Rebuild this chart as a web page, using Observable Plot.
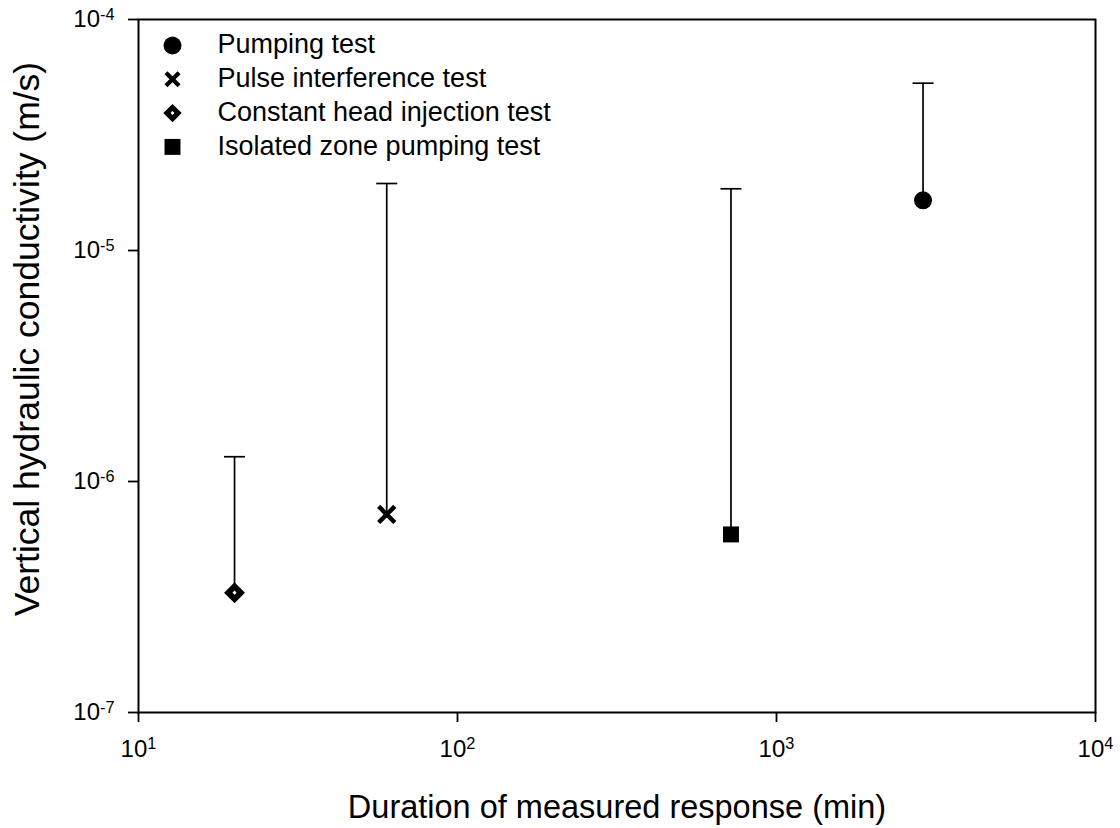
<!DOCTYPE html>
<html>
<head>
<meta charset="utf-8">
<script src="https://cdn.jsdelivr.net/npm/d3@7"></script>
<script src="https://cdn.jsdelivr.net/npm/@observablehq/plot@0.6"></script>
<style>
  html, body { margin: 0; padding: 0; background: #fff; }
  #chart svg { display: block; }
</style>
</head>
<body>
<div id="chart"></div>
<script>
// ---- data ----
const tests = ["Pumping test", "Pulse interference test", "Constant head injection test", "Isolated zone pumping test"];
const durations = [2880, 60, 20, 720];               // min
const kValues = [1.65e-5, 7.2e-7, 3.3e-7, 5.9e-7];    // m/s
const kUpper = [5.3e-5, 1.95e-5, 1.28e-6, 1.85e-5];   // m/s (upper error bar)
const xTicks = [10, 100, 1000, 10000];
const yTicks = [1e-7, 1e-6, 1e-5, 1e-4];
const xTitle = "Duration of measured response (min)";
const yTitle = "Vertical hydraulic conductivity (m/s)";

const data = tests.map((t, i) => ({test: t, x: durations[i], k: kValues[i], upper: kUpper[i]}));

// custom cap symbol: horizontal line
const capSymbol = {
  draw(ctx, size) {
    const r = Math.sqrt(size / Math.PI);
    ctx.moveTo(-r, 0);
    ctx.lineTo(r, 0);
  }
};

// symbol styles per test (marker look only)
const styles = {
  "Pumping test": [{symbol: "circle", r: 9, fill: "black", stroke: "none"}],
  "Pulse interference test": [{symbol: "times", r: 7.4, fill: "none", stroke: "black", strokeWidth: 4.5}],
  "Constant head injection test": [
    {symbol: "diamond2", r: 9.4, fill: "black", stroke: "none"},
    {symbol: "diamond2", r: 1.9, fill: "white", stroke: "none"}
  ],
  "Isolated zone pumping test": [{symbol: "square", r: 9, fill: "black", stroke: "none"}]
};
const legendStyles = {
  "Pumping test": [{symbol: "circle", r: 9, fill: "black", stroke: "none"}],
  "Pulse interference test": [{symbol: "times", r: 6, fill: "none", stroke: "black", strokeWidth: 4.2}],
  "Constant head injection test": [
    {symbol: "diamond2", r: 8.3, fill: "black", stroke: "none"},
    {symbol: "diamond2", r: 1.8, fill: "white", stroke: "none"}
  ],
  "Isolated zone pumping test": [{symbol: "square", r: 9, fill: "black", stroke: "none"}]
};

const pointMarks = [];
tests.forEach(t => {
  styles[t].forEach(s => {
    pointMarks.push(Plot.dot(data.filter(d => d.test === t), {x: "x", y: "k", ...s}));
  });
});

const legendMarks = [];
tests.forEach((t, i) => {
  legendStyles[t].forEach(s => {
    legendMarks.push(Plot.dot({length: 1}, {frameAnchor: "top-left", dx: 34, dy: 26 + 33.8 * i, ...s}));
  });
  legendMarks.push(Plot.text([t], {frameAnchor: "top-left", dx: 79, dy: 25 + 33.8 * i, text: d => d,
    textAnchor: "start", lineAnchor: "middle", fontSize: 27, fill: "black"}));
});

const expFmt = d => String(Math.round(Math.log10(d)));

const chart = Plot.plot({
  width: 1120,
  height: 828,
  marginLeft: 138,
  marginRight: 25,
  marginTop: 19,
  marginBottom: 116,
  style: {fontFamily: "'Liberation Sans', Arial, sans-serif", background: "white", color: "black"},
  x: {type: "log", domain: [10, 10000]},
  y: {type: "log", domain: [1e-7, 1e-4]},
  marks: [
    Plot.axisX({ticks: xTicks, tickSize: 10, tickPadding: 17, tickFormat: expFmt, label: null,
      fontSize: 24, strokeWidth: 1.8, stroke: "black", fill: "black"}),
    Plot.axisY({ticks: yTicks, tickSize: 10, tickPadding: 14, tickFormat: expFmt, label: null,
      fontSize: 24, strokeWidth: 1.8, stroke: "black", fill: "black"}),
    Plot.ruleX(data, {x: "x", y1: "k", y2: "upper", stroke: "black", strokeWidth: 1.7}),
    Plot.dot(data, {x: "x", y: "upper", symbol: capSymbol, r: 10.5, fill: "none", stroke: "black", strokeWidth: 1.7}),
    ...pointMarks,
    ...legendMarks,
    Plot.frame({stroke: "black", strokeWidth: 2}),
    Plot.text([xTitle], {frameAnchor: "bottom", dy: 95, text: d => d, fontSize: 32.5, fill: "black",
      textAnchor: "middle", lineAnchor: "middle"}),
    Plot.text([yTitle], {frameAnchor: "left", dx: -111, dy: -27, rotate: -90, text: d => d, fontSize: 35.5, fill: "black",
      textAnchor: "middle", lineAnchor: "middle"})
  ]
});

document.getElementById("chart").appendChild(chart);

// superscript exponents on tick labels
d3.select(chart).selectAll('g[aria-label="x-axis tick label"] text, g[aria-label="y-axis tick label"] text').each(function() {
  const e = this.textContent;
  this.textContent = "10";
  d3.select(this).append("tspan").attr("dy", "-0.45em").attr("font-size", "0.68em").text(e);
});
</script>
</body>
</html>
